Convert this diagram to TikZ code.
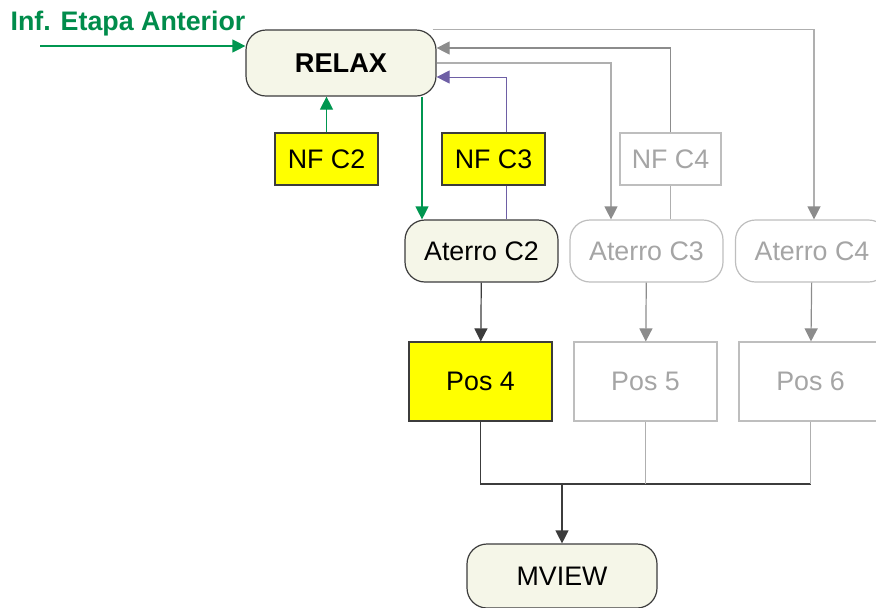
\documentclass[tikz,border=0pt]{standalone}
\usepackage{fontspec}
\setmainfont{Liberation Sans}
\usetikzlibrary{
  arrows.meta,
  positioning,
  calc
}
\definecolor{IvoryFill}{RGB}{245,246,232}
\definecolor{EdgeDark}{RGB}{60,60,60}
\definecolor{PaleEdge}{RGB}{190,190,190}
\definecolor{PaleText}{RGB}{165,165,165}
\definecolor{ArrowGray}{RGB}{140,140,140}
\definecolor{LineGray}{RGB}{175,175,175}
\definecolor{FlowGreen}{RGB}{0,150,80}
\definecolor{LabelGreen}{RGB}{0,140,75}
\definecolor{FlowPurple}{RGB}{110,95,165}
\definecolor{MarkYellow}{RGB}{255,255,0}
\tikzset{
  relaxnode/.style={draw=EdgeDark,fill=IvoryFill,rounded corners=10pt,line width=0.6pt,minimum width=95pt,minimum height=33pt,inner sep=0pt,font=\fontsize{13.6}{16}\selectfont\bfseries},
  mviewnode/.style={draw=EdgeDark,fill=IvoryFill,rounded corners=10pt,line width=0.6pt,minimum width=95pt,minimum height=32pt,inner sep=0pt,font=\fontsize{13.4}{16}\selectfont},
  nfnode/.style={draw=EdgeDark,fill=MarkYellow,line width=0.6pt,minimum width=51.5pt,minimum height=26pt,inner sep=0pt,font=\fontsize{13.4}{16}\selectfont},
  nfoff/.style={draw=PaleEdge,fill=white,text=PaleText,line width=0.6pt,minimum width=50.5pt,minimum height=26pt,inner sep=0pt,font=\fontsize{13.4}{16}\selectfont},
  aterronode/.style={draw=EdgeDark,fill=IvoryFill,rounded corners=10pt,line width=0.6pt,minimum width=76.5pt,minimum height=31pt,inner sep=0pt,font=\fontsize{13.4}{16}\selectfont},
  aterrooff/.style={draw=PaleEdge,fill=white,text=PaleText,rounded corners=10pt,line width=0.6pt,minimum width=76.5pt,minimum height=31pt,inner sep=0pt,font=\fontsize{13.4}{16}\selectfont},
  posnode/.style={draw=EdgeDark,fill=MarkYellow,line width=0.6pt,minimum width=71.5pt,minimum height=39.5pt,inner sep=0pt,font=\fontsize{13.4}{16}\selectfont},
  posoff/.style={draw=PaleEdge,fill=white,text=PaleText,line width=0.6pt,minimum width=71.5pt,minimum height=39.5pt,inner sep=0pt,font=\fontsize{13.4}{16}\selectfont},
  greenarrow/.style={-{Triangle[length=6.5pt,width=6.5pt]},line width=0.6pt,draw=FlowGreen},
  purplearrow/.style={-{Triangle[length=6.5pt,width=6.5pt]},line width=0.5pt,draw=FlowPurple},
  purpleline/.style={line width=0.5pt,draw=FlowPurple},
  grayarrow/.style={-{Triangle[length=6.5pt,width=6.5pt]},line width=0.6pt,draw=ArrowGray},
  toparrow/.style={-{Triangle[length=6.5pt,width=6.5pt,color=ArrowGray]},line width=0.6pt,draw=LineGray},
  grayline/.style={line width=0.6pt,draw=LineGray},
  darkarrow/.style={-{Triangle[length=6.5pt,width=6.5pt]},line width=0.6pt,draw=EdgeDark},
  darkline/.style={line width=0.6pt,draw=EdgeDark}
}
\begin{document}
\begin{tikzpicture}[x=0.5pt,y=-0.5pt]
\useasboundingbox (0,0) rectangle (876,607);
% boxes
\node[relaxnode] (relax) at (341,63) {RELAX};
\node[nfnode] (nfc2) at (326.5,159) {NF C2};
\node[nfnode] (nfc3) at (493.5,159) {NF C3};
\node[nfoff] (nfc4) at (670.5,159) {NF C4};
\node[aterronode] (aterro2) at (481.5,251) {Aterro C2};
\node[aterrooff] (aterro3) at (646.5,251) {Aterro C3};
\node[aterrooff] (aterro4) at (812,251) {Aterro C4};
\node[posnode] (pos4) at (480.5,381.5) {Pos 4};
\node[posoff] (pos5) at (645.5,381.5) {Pos 5};
\node[posoff] (pos6) at (810.5,381.5) {Pos 6};
\node[mviewnode] (mview) at (562,576) {MVIEW};
\node[text=LabelGreen,font=\fontsize{13.4}{16}\selectfont\bfseries,inner sep=0pt] (inflabel) at (128,24) {Inf. Etapa Anterior};
% turning points
\coordinate (infstart) at (40,46);
\coordinate (c2x) at (422,0);
\coordinate (c3x) at (506,0);
\coordinate (a3x) at (611,0);
\coordinate (merge) at (562,484);
% connectors
\draw[greenarrow] (infstart) -- (infstart -| relax.west);
\draw[greenarrow] (nfc2.north) -- (nfc2.north |- relax.south);
\draw[greenarrow] (relax.south -| c2x) -- (aterro2.north -| c2x);
\draw[purplearrow] (nfc3.north -| c3x) |- ($(relax.east)+(0,14)$);
\draw[purpleline] (nfc3.south -| c3x) -- (aterro2.north -| c3x);
\draw[grayarrow] (nfc4.north) |- ($(relax.east)+(0,-15)$);
\draw[grayline] (nfc4.south) -- (aterro3.north -| nfc4.south);
\draw[toparrow] (relax.east) -| (aterro3.north -| a3x);
\draw[toparrow] ($(relax.north east)+(-4,0)$) -| ($(aterro4.north)+(2,0)$);
\draw[darkarrow] (aterro2) -- (pos4);
\draw[grayarrow] (aterro3) -- (pos5);
\draw[grayarrow] (aterro4) -- (pos6);
\draw[darkline] (pos4.south) |- (merge -| pos6.south);
\draw[grayline] (pos5.south) -- (pos5.south |- merge);
\draw[grayline] (pos6.south) -- (pos6.south |- merge);
\draw[darkarrow] (merge) -- (mview);
\end{tikzpicture}
\end{document}
